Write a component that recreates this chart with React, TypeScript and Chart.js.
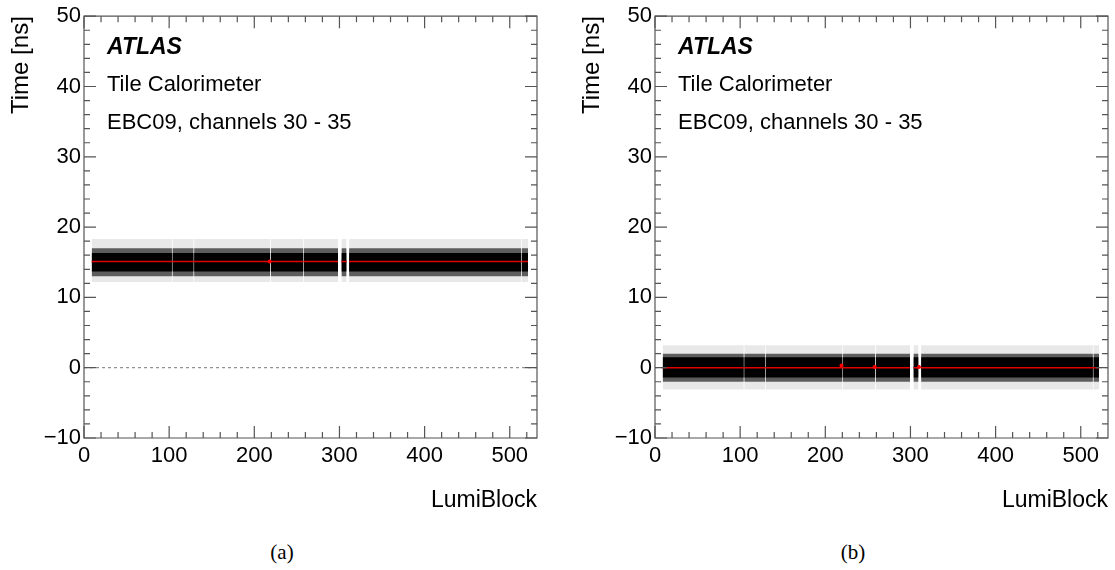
import React, { useEffect, useRef } from 'react';
import { Chart, registerables } from 'chart.js';

Chart.register(...registerables);

// ---------------- data ----------------
// luminosity-block ranges that contain data (gaps between them are missing / sparse LBs)
const lumiBlockSegmentsA: [number, number][] = [
  [9, 103.3], [103.8, 128.8], [129.3, 218.8], [219.3, 257.8], [258.3, 298.3],
  [302.3, 308.4], [311.3, 513.3], [513.8, 521.5],
];
const lumiBlockSegmentsB: [number, number][] = [
  [9, 104.3], [104.8, 129.8], [130.3, 220.3], [220.8, 258.8], [259.3, 299.5],
  [303.5, 309.5], [312.5, 514.3], [514.8, 521.5],
];
const xMax = 532;
const xTickValues = [0, 100, 200, 300, 400, 500];
const yTickValues = [-10, 0, 10, 20, 30, 40, 50];
const xMinorStep = 20;
const yMinorStep = 2;

// panel (a): time band around 15 ns
const meanTimeA = 15.1;
const coreBandA: [number, number] = [13.7, 16.3];
const boxBandA: [number, number] = [13.0, 17.0];
const tailBandA: [number, number] = [12.2, 18.3];
const highlightA = [{ x: 218, y: 15.1 }];

// panel (b): time band around 0 ns
const meanTimeB = 0.0;
const coreBandB: [number, number] = [-1.4, 1.5];
const boxBandB: [number, number] = [-2.0, 2.0];
const tailBandB: [number, number] = [-3.1, 3.2];
const highlightB = [{ x: 219, y: 0.3 }, { x: 258, y: 0.1 }, { x: 310, y: 0.1 }];

const annotationLines = ['Tile Calorimeter', 'EBC09, channels 30 - 35'];

// ---------------- helpers ----------------
const FONT = '"Liberation Sans", Arial, Helvetica, sans-serif';

function segLine(segs: [number, number][], y: number) {
  const pts: { x: number; y: number | null }[] = [];
  segs.forEach(([a, b]) => {
    pts.push({ x: a, y }, { x: b, y }, { x: b, y: null });
  });
  return pts;
}

const rootFramePlugin = {
  id: 'rootFrame',
  afterDatasetsDraw(chart: any) {
    const { ctx, chartArea } = chart;
    const { left, right, top, bottom } = chartArea;
    const xs = chart.scales.x;
    const ys = chart.scales.y;
    ctx.save();
    ctx.strokeStyle = '#555';
    ctx.lineWidth = 1.2;
    ctx.beginPath();
    ctx.rect(left, top, right - left, bottom - top);
    ctx.stroke();
    ctx.beginPath();
    for (let v = 0; v <= xs.max + 1e-9; v += xMinorStep) {
      const px = xs.getPixelForValue(v);
      const len = v % 100 === 0 ? 12 : 6;
      ctx.moveTo(px, bottom);
      ctx.lineTo(px, bottom - len);
      ctx.moveTo(px, top);
      ctx.lineTo(px, top + len);
    }
    for (let v = ys.min; v <= ys.max + 1e-9; v += yMinorStep) {
      const py = ys.getPixelForValue(v);
      const len = Math.abs(v % 10) < 1e-9 ? 12 : 6;
      ctx.moveTo(left, py);
      ctx.lineTo(left + len, py);
      ctx.moveTo(right, py);
      ctx.lineTo(right - len, py);
    }
    ctx.stroke();
    ctx.restore();
  },
};

type PanelCfg = {
  segs: [number, number][];
  mean: number;
  core: [number, number];
  box: [number, number];
  tail: [number, number];
  highlight: { x: number; y: number }[];
  padRight: number;
};

function buildConfig(p: PanelCfg): any {
  const band = (range: [number, number], color: string, order: number) => ({
    data: segLine(p.segs, range[1]),
    borderWidth: 0,
    borderColor: 'rgba(0,0,0,0)',
    backgroundColor: color,
    fill: { value: range[0] },
    pointRadius: 0,
    spanGaps: false,
    order,
  });
  return {
    type: 'line',
    data: {
      datasets: [
        {
          data: [{ x: 0, y: 0 }, { x: xMax, y: 0 }],
          borderColor: '#777',
          borderWidth: 1,
          borderDash: [3, 3],
          pointRadius: 0,
          fill: false,
          order: 10,
        },
        band(p.tail, 'rgba(0,0,0,0.09)', 6),
        band(p.box, 'rgba(0,0,0,0.6)', 5),
        band(p.core, '#000000', 4),
        {
          data: segLine(p.segs, p.mean),
          borderColor: '#e00000',
          borderWidth: 1.4,
          pointRadius: 0,
          fill: false,
          spanGaps: false,
          order: 2,
        },
        {
          data: p.highlight,
          showLine: false,
          pointRadius: 2,
          pointBorderWidth: 0,
          pointBackgroundColor: '#ff0000',
          fill: false,
          order: 1,
        },
      ],
    },
    options: {
      animation: false,
      responsive: false,
      events: [],
      layout: { padding: { left: 0, right: p.padRight, top: 15, bottom: 0 } },
      plugins: { legend: { display: false }, tooltip: { enabled: false } },
      elements: { line: { tension: 0 } },
      scales: {
        x: {
          type: 'linear',
          min: 0,
          max: xMax,
          grid: { display: false, drawTicks: false },
          border: { display: false },
          afterBuildTicks: (s: any) => {
            s.ticks = xTickValues.map((v) => ({ value: v }));
          },
          ticks: {
            padding: 5,
            color: '#000',
            maxRotation: 0,
            autoSkip: false,
            includeBounds: false,
            font: { family: FONT, size: 22 },
          },
          title: {
            display: true,
            text: 'LumiBlock',
            align: 'end',
            color: '#000',
            font: { family: FONT, size: 23 },
            padding: { top: 0, bottom: 16 },
          },
          afterFit: (s: any) => {
            s.height = 92;
          },
        },
        y: {
          type: 'linear',
          min: -10,
          max: 50,
          grid: { display: false, drawTicks: false },
          border: { display: false },
          afterBuildTicks: (s: any) => {
            s.ticks = yTickValues.map((v) => ({ value: v }));
          },
          ticks: {
            padding: 3,
            color: '#000',
            autoSkip: false,
            font: { family: FONT, size: 22 },
            callback: (v: number) => (v < 0 ? '\u2212' + Math.abs(v) : String(v)),
          },
          title: {
            display: true,
            text: 'Time [ns]',
            align: 'end',
            color: '#000',
            font: { family: FONT, size: 24 },
            padding: { top: 7, bottom: 0 },
          },
          afterFit: (s: any) => {
            s.width = 84;
          },
        },
      },
    },
    plugins: [rootFramePlugin],
  };
}

function Panel({ cfg, left, width }: { cfg: PanelCfg; left: number; width: number }) {
  const ref = useRef<HTMLCanvasElement>(null);
  useEffect(() => {
    if (!ref.current) return;
    const chart = new Chart(ref.current, buildConfig(cfg));
    return () => chart.destroy();
  }, []);
  return (
    <canvas
      ref={ref}
      width={width}
      height={530}
      style={{ position: 'absolute', left, top: 0, width, height: 530 }}
    />
  );
}

function Labels({ left }: { left: number }) {
  const base: React.CSSProperties = {
    position: 'absolute',
    left,
    fontFamily: FONT,
    fontSize: 22,
    lineHeight: '22px',
    color: '#000',
    whiteSpace: 'nowrap',
  };
  return (
    <>
      <div style={{ ...base, top: 35, fontWeight: 'bold', fontStyle: 'italic', fontSize: 23, lineHeight: '23px' }}>
        ATLAS
      </div>
      <div style={{ ...base, top: 73 }}>{annotationLines[0]}</div>
      <div style={{ ...base, top: 111 }}>{annotationLines[1]}</div>
    </>
  );
}

export default function App() {
  const panelA: PanelCfg = {
    segs: lumiBlockSegmentsA,
    mean: meanTimeA,
    core: coreBandA,
    box: boxBandA,
    tail: tailBandA,
    highlight: highlightA,
    padRight: 34,
  };
  const panelB: PanelCfg = {
    segs: lumiBlockSegmentsB,
    mean: meanTimeB,
    core: coreBandB,
    box: boxBandB,
    tail: tailBandB,
    highlight: highlightB,
    padRight: 7,
  };
  const caption: React.CSSProperties = {
    position: 'absolute',
    top: 540,
    width: 60,
    textAlign: 'center',
    fontFamily: '"Liberation Serif", "Times New Roman", serif',
    fontSize: 21,
    lineHeight: '24px',
    color: '#000',
  };
  return (
    <div style={{ position: 'absolute', left: 0, top: 0, width: 1115, height: 570, background: '#fff', overflow: 'hidden' }}>
      <Panel cfg={panelA} left={0} width={571} />
      <Panel cfg={panelB} left={571} width={544} />
      <Labels left={107} />
      <Labels left={678} />
      <div style={{ ...caption, left: 282 - 30 }}>(a)</div>
      <div style={{ ...caption, left: 853 - 30 }}>(b)</div>
    </div>
  );
}
